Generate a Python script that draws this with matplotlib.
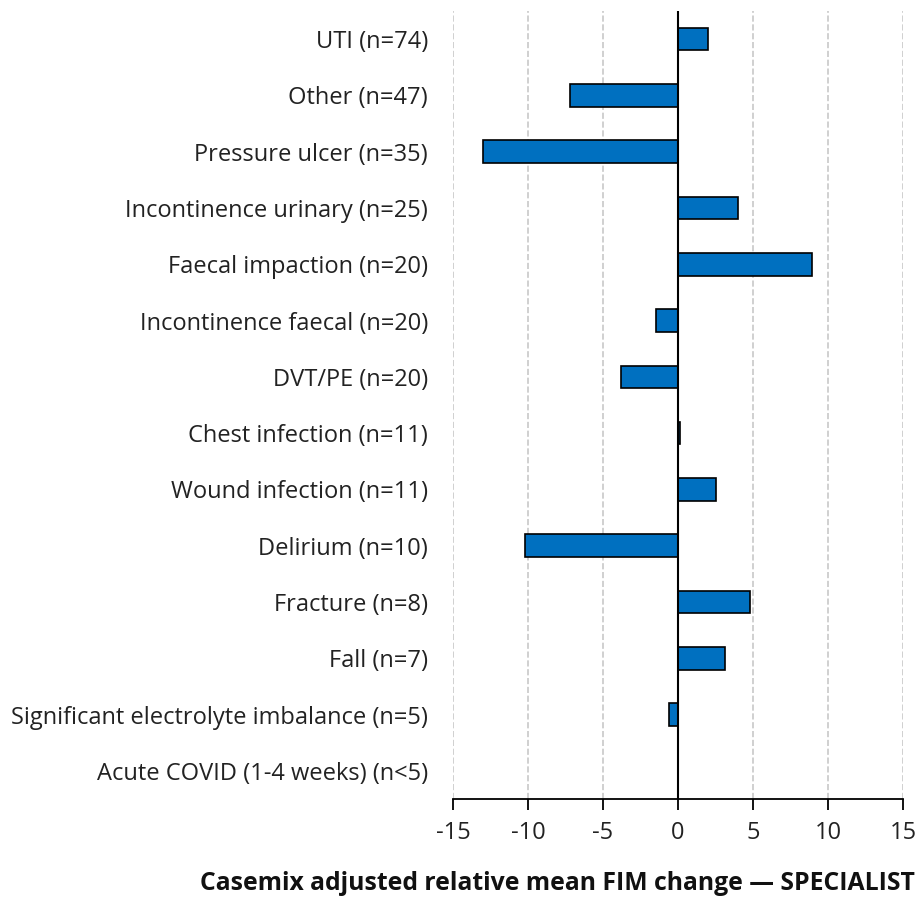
import numpy as np
import matplotlib
matplotlib.use('Agg')
import matplotlib.pyplot as plt

categories = [
    'UTI (n=74)',
    'Other (n=47)',
    'Pressure ulcer (n=35)',
    'Incontinence urinary (n=25)',
    'Faecal impaction (n=20)',
    'Incontinence faecal (n=20)',
    'DVT/PE (n=20)',
    'Chest infection (n=11)',
    'Wound infection (n=11)',
    'Delirium (n=10)',
    'Fracture (n=8)',
    'Fall (n=7)',
    'Significant electrolyte imbalance (n=5)',
    'Acute COVID (1-4 weeks) (n<5)',
]
values = [2.0, -7.2, -13.0, 4.0, 8.9, -1.5, -3.8, 0.15, 2.5, -10.2, 4.8, 3.1, -0.6, np.nan]
xticks = [-15, -10, -5, 0, 5, 10, 15]

plt.rcParams['font.family'] = ['Open Sans', 'DejaVu Sans']

fig = plt.figure(figsize=(9.23, 9.0), dpi=100)
ax = fig.add_axes([453/923, 1 - 799/900, 450/923, 788/900])

y = np.arange(len(categories))
ax.barh(y, values, height=0.4, color='#0070C0', edgecolor='black', linewidth=1.2, zorder=3)
ax.axvline(0, color='black', linewidth=1.5, zorder=4)

ax.set_xlim(-15, 15)
ax.set_ylim(len(categories) - 0.5, -0.5)
ax.set_xticks(xticks)
ax.set_xticklabels([str(t) for t in xticks], fontsize=17, color='#222222')
ax.set_yticks(y)
ax.set_yticklabels(categories, fontsize=17, color='#222222')
ax.tick_params(axis='y', length=0, pad=18)
ax.tick_params(axis='x', length=8, width=1.3, pad=8)

ax.grid(axis='x', color='#c8c8c8', linestyle='--', linewidth=1.2, zorder=0)
for s in ['left', 'right', 'top']:
    ax.spines[s].set_visible(False)
ax.spines['bottom'].set_linewidth(1.3)

fig.text(915/923, 1 - 883/900, 'Casemix adjusted relative mean FIM change \u2014 SPECIALIST',
         ha='right', va='center', fontsize=17.8, fontweight='bold', color='#111111')

plt.savefig('out.png', dpi=100)
